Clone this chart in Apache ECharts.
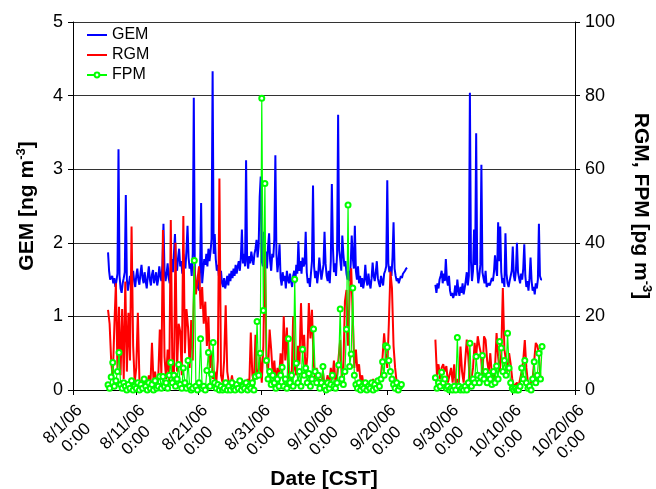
<!DOCTYPE html>
<html>
<head>
<meta charset="utf-8">
<script src="https://cdn.jsdelivr.net/npm/echarts@6/dist/echarts.min.js"></script>
<style>
  html, body { margin: 0; padding: 0; background: #ffffff; }
  #chart { width: 656px; height: 489px; }
</style>
</head>
<body>
<div id="chart"></div>
<script>
// Time is measured in days since 8/1/06 0:00 CST.
const tickLabels = ['8/1/06', '8/11/06', '8/21/06', '8/31/06', '9/10/06', '9/20/06', '9/30/06', '10/10/06', '10/20/06'];
const tickTime = '0:00';

// Two measurement periods (start day of each)
const partStarts = [5 + 14 / 24, 57 + 18 / 24];
const gemStep = 4 / 24;   // GEM every 4 h
const pmStep = 6 / 24;    // RGM / FPM every 6 h

// GEM [ng m-3]
const gemPart1 = [
  1.87, 1.62, 1.50, 1.48, 1.55, 1.45, 1.52, 1.40, 1.48, 1.58,
  3.27, 1.55, 1.38, 1.32, 1.45, 1.52, 1.60, 2.65, 1.50, 1.35,
  1.45, 1.55, 1.42, 1.50, 1.62, 1.48, 1.40, 1.55, 1.65, 1.50,
  1.43, 1.58, 1.70, 1.52, 1.45, 1.60, 1.48, 1.38, 1.55, 1.68,
  1.50, 1.42, 1.57, 1.63, 1.45, 1.52, 1.60, 1.42, 1.50, 1.68,
  1.55, 1.48, 1.70, 2.26, 1.62, 1.48, 1.58, 1.72, 1.52, 1.45,
  1.65, 1.78, 1.60, 1.85, 2.12, 1.70, 1.62, 1.80, 1.92, 1.68,
  1.75, 1.58, 1.85, 1.72, 1.65, 1.90, 2.23, 1.80, 1.65, 1.72,
  1.55, 1.85, 3.97, 1.60, 1.45, 1.38, 1.50, 1.35, 1.62, 2.54,
  1.45, 1.62, 1.78, 1.70, 1.85, 1.68, 1.92, 1.75, 1.88, 2.05,
  4.33, 1.85, 2.12, 1.78, 1.62, 1.70, 1.55, 1.48, 1.62, 1.45,
  1.40, 1.52, 1.38, 1.45, 1.55, 1.42, 1.58, 1.48, 1.62, 1.52,
  1.65, 1.55, 1.70, 1.58, 1.68, 1.75, 1.62, 1.80, 2.18, 1.72,
  1.85, 1.68, 3.12, 1.75, 1.65, 1.82, 1.72, 1.88, 1.78, 1.70,
  1.85, 1.92, 2.04, 1.80, 1.95, 2.62, 2.90, 1.75, 1.68, 2.15,
  1.70, 1.88, 1.65, 1.95, 2.13, 1.75, 1.62, 1.85, 1.80, 2.05,
  3.19, 1.85, 1.60, 1.75, 1.98, 1.52, 1.42, 1.60, 1.48, 1.55,
  1.38, 1.62, 1.50, 1.45, 1.58, 1.48, 1.40, 1.55, 1.62, 1.45,
  1.70, 1.58, 2.02, 1.62, 1.75, 1.58, 1.80, 1.68, 1.72, 2.15,
  1.60, 1.45, 1.52, 1.40, 1.58, 1.75, 2.78, 1.68, 1.52, 1.62,
  1.45, 1.58, 1.80, 1.65, 1.50, 1.48, 1.70, 2.15, 1.72, 1.55,
  1.48, 1.62, 1.45, 1.75, 2.80, 1.95, 1.60, 1.72, 1.55, 1.85,
  3.74, 1.90, 1.78, 1.62, 2.10, 1.85, 1.68, 1.75, 1.58, 1.50,
  1.62, 1.48, 1.70, 2.10, 1.80, 1.65, 2.23, 1.62, 1.50, 1.68,
  1.45, 1.55, 1.40, 1.52, 1.38, 1.48, 1.70, 1.50, 1.42, 1.58,
  1.45, 1.38, 1.52, 1.73, 1.55, 1.48, 1.60, 1.75, 1.52, 1.45,
  1.40, 1.55, 1.48, 1.42, 1.58, 1.62, 1.68, 2.85, 1.72, 1.60,
  1.68, 1.55, 1.80, 2.28, 1.65, 1.55, 1.48, 1.52, 1.45, 1.50,
  1.55, 1.52, 1.58, 1.60, 1.62, 1.65, 1.66
];
const gemPart2 = [
  1.43, 1.32, 1.45, 1.38, 1.50, 1.55, 1.62, 1.45, 1.58, 1.48,
  1.78, 1.50, 1.42, 1.55, 1.35, 1.28, 1.32, 1.25, 1.30, 1.42,
  1.28, 1.50, 1.35, 1.28, 1.40, 1.32, 1.45, 1.30, 1.38, 1.48,
  1.60, 1.42, 1.55, 4.04, 1.75, 1.48, 1.62, 2.18, 1.70, 3.49,
  1.65, 1.45, 1.55, 1.70, 3.06, 1.60, 1.52, 1.45, 1.62, 1.40,
  1.38, 1.45, 1.42, 1.40, 1.52, 1.48, 1.60, 1.83, 1.65, 1.55,
  2.28, 1.75, 2.22, 1.60, 1.45, 1.52, 1.40, 2.13, 1.58, 1.45,
  1.40, 1.48, 1.55, 1.62, 1.95, 1.55, 1.48, 1.62, 2.00, 1.60,
  1.52, 1.45, 1.58, 1.50, 1.65, 1.98, 1.55, 1.40, 1.48, 1.35,
  1.52, 1.80, 1.48, 1.35, 1.40, 1.30, 1.45, 1.38, 1.50, 2.26,
  1.55, 1.50, 1.50
];

// RGM [pg m-3]
const rgmPart1 = [
  21.8, 18, 8, 3, 17, 29, 6, 22.6, 4, 22,
  3, 29.5, 5, 21, 8, 44.4, 12, 2, 6, 21,
  3, 1, 2, 0.5, 3, 1, 4, 1, 12.8, 2,
  5, 1, 3, 16.4, 4, 43.5, 9, 3, 11, 2,
  46.2, 6, 3, 40, 5, 18, 16, 4, 47.3, 10,
  22, 17, 6, 19, 8, 33.6, 26, 30, 33.6, 22,
  28, 18, 24, 12, 20, 6, 10, 3, 5, 2,
  8, 57.5, 4, 2, 8, 23, 5, 2, 1, 4,
  1, 2, 0.5, 1, 3, 1, 0.5, 2, 1, 3,
  1, 15.6, 4, 2, 15, 3, 5, 9, 2, 12,
  39, 8, 5, 16.4, 11, 4, 8, 2, 6, 3,
  10, 4, 20, 8, 17, 3, 5, 2, 20, 6,
  4, 12, 7, 23.6, 10, 15, 4, 9, 23.6, 14,
  21.8, 8, 3, 6, 1, 3, 1, 5, 1, 2,
  4, 1, 6, 3, 8, 2, 4, 9, 13.6, 3,
  6, 24, 27.2, 12, 26, 33.1, 20, 6, 11, 5,
  7, 2, 4, 1, 2, 1, 0.5, 2, 1, 3,
  1, 0.5, 2, 1, 4, 9, 15.4, 10, 6, 18,
  32.2, 27.6, 12, 6, 2, 1
];
const rgmPart2 = [
  13.7, 4, 7, 3, 6, 7, 5, 6.5, 2, 4,
  6, 2, 7, 1, 3, 2, 11.8, 5, 2, 8,
  13.7, 9, 2, 3, 6, 12.8, 9, 14.6, 12, 10,
  3, 14.6, 13.6, 8, 5, 10, 4, 2, 6, 15.5,
  9, 5, 10, 27.7, 11, 8, 5, 10, 7, 3,
  1, 0.5, 2, 1, 3, 5, 8, 13.6, 6, 2,
  1, 0.5, 3, 8, 12.8, 12, 10, 3
];

// FPM [pg m-3]
const fpmPart1 = [
  1.4, 0.5, 3.5, 7.5, 1, 2.5, 5, 10.2, 1.5, 0.5,
  2, 1, 0, 1.5, 0.5, 2.5, 0, 1, 0.5, 2,
  0, 1.5, 0.5, 3, 1, 0, 2, 0.5, 1.5, 0,
  2.5, 0.5, 1, 3.7, 0.5, 3.7, 1, 2, 0.5, 4,
  7.5, 2, 4, 1, 3, 6.9, 1.5, 0.5, 6, 2,
  0.5, 8, 1, 0, 0.5, 35.2, 1, 0, 2, 13.9,
  0.5, 1, 0, 5.3, 10.2, 1, 4.3, 12.9, 2, 0.5,
  1.5, 0, 1, 0, 0.5, 2, 0, 1, 0, 2,
  0.5, 0, 1.5, 0.5, 2.5, 0, 1, 0.5, 2, 0,
  1, 0.5, 2, 0, 3.7, 18.6, 4, 10, 79.3, 21.6,
  56.1, 8, 3, 5, 1.5, 4, 2, 0.5, 3, 1,
  4, 6.2, 1, 3, 0.5, 13.9, 2, 4, 1, 30.1,
  7.3, 2, 5, 1, 11.1, 4, 6, 2, 4.5, 1,
  3, 16.6, 5, 2, 4, 0.5, 2, 6.4, 1, 0,
  2, 0.5, 1.5, 4, 1, 0.5, 2, 6.8, 22, 3,
  1.5, 5, 16.5, 50.3, 6.4, 9.8, 27.7, 4, 1.5, 0.5,
  2, 0, 1, 0.5, 2, 0, 1, 0.5, 2, 0,
  1.5, 0.5, 2.5, 1, 3, 7.7, 4, 12, 11.6, 8,
  5, 3, 1.5, 0.5, 2, 0, 1, 1.5
];
const fpmPart2 = [
  3.3, 0.5, 2, 1, 4.8, 2, 3, 0.5, 1, 0,
  0.5, 0, 1, 0, 14.3, 1, 0, 0.5, 0, 1,
  0, 2, 12.7, 1, 3, 2, 9.1, 4, 2, 3.5,
  9.4, 3, 5, 2, 4, 3, 1.5, 5, 2, 6.5,
  3, 13.2, 11.4, 5, 8, 4, 15.4, 6, 2, 0.5,
  0, 0.5, 0, 0, 1, 6, 3, 8, 2, 0.5,
  1, 0, 3, 7.7, 2, 4, 10, 3, 11.8
];

// Build [day, value] pairs, with a break between the two periods
function toPairs(values, start, step) {
  return values.map(function (v, i) { return [start + i * step, v]; });
}
function joinParts(a, b, step) {
  const endA = partStarts[0] + (a.length - 1) * step;
  const gap = [[(endA + partStarts[1]) / 2, '-']];
  return toPairs(a, partStarts[0], step).concat(gap, toPairs(b, partStarts[1], step));
}

const gemData = joinParts(gemPart1, gemPart2, gemStep);
const rgmData = joinParts(rgmPart1, rgmPart2, pmStep);
const fpmData = joinParts(fpmPart1, fpmPart2, pmStep);

const FONT = 'Liberation Sans, Arial, sans-serif';

const nameRich = {
  t: { fontFamily: FONT, fontSize: 21, fontWeight: 'bold', color: '#000', lineHeight: 24 },
  s: { fontFamily: FONT, fontSize: 13, fontWeight: 'bold', color: '#000', verticalAlign: 'top', lineHeight: 24 }
};

// legend entries: plain line for GEM / RGM, line with open circle for FPM
const hiddenMarker = { opacity: 0, color: 'rgba(0,0,0,0)', borderColor: 'rgba(0,0,0,0)' };

const chart = echarts.init(document.getElementById('chart'), null, { renderer: 'canvas' });
chart.setOption({
  animation: false,
  backgroundColor: '#ffffff',
  grid: { left: 73, right: 81, top: 22, bottom: 99, containLabel: false, outerBoundsMode: 'none' },
  legend: {
    data: [
      { name: 'GEM', itemStyle: hiddenMarker },
      { name: 'RGM', itemStyle: hiddenMarker },
      { name: 'FPM' }
    ],
    orient: 'vertical',
    left: 86,
    top: 27,
    padding: 0,
    itemWidth: 20,
    itemHeight: 6,
    itemGap: 4,
    textStyle: { fontFamily: FONT, fontSize: 16, color: '#000' }
  },
  xAxis: {
    type: 'value',
    min: 0,
    max: 80,
    interval: 10,
    name: 'Date [CST]',
    nameLocation: 'middle',
    nameGap: 79,
    nameMoveOverlap: false,
    nameTextStyle: { fontFamily: FONT, fontSize: 21, fontWeight: 'bold', color: '#000' },
    axisLine: { lineStyle: { color: '#000', width: 1 } },
    axisTick: { show: true, length: 5, lineStyle: { color: '#000' } },
    splitLine: { show: false },
    axisLabel: {
      rotate: 45,
      align: 'right',
      verticalAlign: 'top',
      margin: 11,
      formatter: function (v) {
        const lbl = tickLabels[Math.round(v / 10)];
        return '{d|' + lbl + '}\n{d|' + tickTime + '}';
      },
      rich: {
        d: { fontFamily: FONT, fontSize: 17, lineHeight: 19, color: '#000', align: 'center' }
      }
    }
  },
  yAxis: [
    {
      type: 'value',
      min: 0,
      max: 5,
      interval: 1,
      position: 'left',
      name: '{t|GEM [ng m}{s|-3}{t|]}',
      nameLocation: 'middle',
      nameRotate: 90,
      nameGap: 34,
      nameMoveOverlap: false,
      nameTextStyle: { rich: nameRich },
      axisLine: { show: true, lineStyle: { color: '#000', width: 1 } },
      axisTick: { show: true, length: 5, lineStyle: { color: '#000' } },
      axisLabel: { fontFamily: FONT, fontSize: 18, color: '#000', margin: 10 },
      splitLine: { show: true, lineStyle: { color: '#333333', width: 1 } }
    },
    {
      type: 'value',
      min: 0,
      max: 100,
      interval: 20,
      position: 'right',
      name: '{t|RGM, FPM [pg m}{s|-3}{t|]}',
      nameLocation: 'middle',
      nameRotate: -90,
      nameGap: 54,
      nameMoveOverlap: false,
      nameTextStyle: { rich: nameRich },
      axisLine: { show: true, lineStyle: { color: '#000', width: 1 } },
      axisTick: { show: true, length: 5, lineStyle: { color: '#000' } },
      axisLabel: { fontFamily: FONT, fontSize: 18, color: '#000', margin: 10 },
      splitLine: { show: false }
    }
  ],
  series: [
    {
      name: 'GEM',
      type: 'line',
      yAxisIndex: 0,
      data: gemData,
      symbol: 'none',
      connectNulls: false,
      itemStyle: { color: '#0000ff' },
      lineStyle: { color: '#0000ff', width: 2 }
    },
    {
      name: 'RGM',
      type: 'line',
      yAxisIndex: 1,
      data: rgmData,
      symbol: 'none',
      connectNulls: false,
      itemStyle: { color: '#ff0000' },
      lineStyle: { color: '#ff0000', width: 2 }
    },
    {
      name: 'FPM',
      type: 'line',
      yAxisIndex: 1,
      data: fpmData,
      symbol: 'emptyCircle',
      symbolSize: 5,
      showSymbol: true,
      showAllSymbol: true,
      connectNulls: false,
      itemStyle: { color: '#00ff00', borderWidth: 1 },
      lineStyle: { color: '#00ff00', width: 1.2 }
    }
  ]
});
</script>
</body>
</html>
